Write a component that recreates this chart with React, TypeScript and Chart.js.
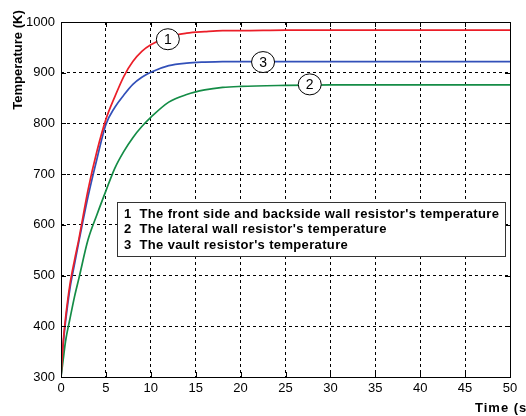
import React, { useEffect, useRef } from "react";
import { Chart, registerables } from "chart.js";

Chart.register(...registerables);

// Time (s)
const TIME = [0, 0.25, 0.5, 1, 1.5, 2, 3, 4, 5, 6, 7, 8, 9, 10, 12, 14, 16, 18, 20, 25, 30, 35, 40, 45, 50];
// 1: front side and backside wall resistor (K)
const FRONT_BACK = [300, 370, 415, 483, 530, 573, 668, 745, 808, 853, 893, 922, 942, 955, 971, 978, 981, 983, 983, 984, 984, 984, 984, 984, 984];
// 2: lateral wall resistor (K)
const LATERAL = [300, 335, 370, 415, 458, 495, 570, 620, 667, 712, 745, 772, 794, 812, 842, 857, 866, 871, 873, 875, 876, 876, 876, 876, 876];
// 3: vault resistor (K)
const VAULT = [300, 365, 408, 475, 522, 568, 655, 730, 798, 832, 856, 877, 891, 901, 914, 919, 921, 922, 922, 922, 922, 922, 922, 922, 922];

const X_TICKS_STEP = 5;
const Y_TICKS_STEP = 100;

const LEGEND_LINES = [
  "1  The front side and backside wall resistor's temperature",
  "2  The lateral wall resistor's temperature",
  "3  The vault resistor's temperature",
];

const MARK_LABELS = ["1", "3", "2"];
const MARK_T = [11.9, 22.5, 27.7];
const MARK_TEMP = [966, 921, 877];

const X_TITLE = "Time (s)";
const Y_TITLE = "Temperature (K)";

const FONT = "'Liberation Sans', Arial, Helvetica, sans-serif";

const overlay = {
  id: "overlay",
  afterDatasetsDraw(chart: any) {
    const ctx = chart.ctx as any;
    const { left, right, top, bottom } = chart.chartArea;
    const xs = chart.scales.x;
    const ys = chart.scales.y;
    ctx.save();
    // inside ticks
    ctx.strokeStyle = "#000";
    ctx.lineWidth = 1;
    ctx.setLineDash([]);
    ctx.beginPath();
    for (let v = 0; v <= 50; v += X_TICKS_STEP) {
      const px = Math.round(xs.getPixelForValue(v)) + 0.5;
      ctx.moveTo(px, bottom);
      ctx.lineTo(px, bottom - 5);
      ctx.moveTo(px, top);
      ctx.lineTo(px, top + 5);
    }
    for (let v = 300; v <= 1000; v += Y_TICKS_STEP) {
      const py = Math.round(ys.getPixelForValue(v)) + 0.5;
      ctx.moveTo(left, py);
      ctx.lineTo(left + 5, py);
      ctx.moveTo(right, py);
      ctx.lineTo(right - 5, py);
    }
    ctx.stroke();
    // box
    ctx.strokeRect(Math.round(left) + 0.5, Math.round(top) + 0.5, Math.round(right - left), Math.round(bottom - top));

    // curve marks
    for (let i = 0; i < MARK_LABELS.length; i++) {
      const cx = xs.getPixelForValue(MARK_T[i]);
      const cy = ys.getPixelForValue(MARK_TEMP[i]);
      ctx.beginPath();
      ctx.ellipse(cx, cy, 11.5, 10.5, 0, 0, Math.PI * 2);
      ctx.fillStyle = "#fff";
      ctx.fill();
      ctx.strokeStyle = "#000";
      ctx.lineWidth = 1;
      ctx.stroke();
      ctx.fillStyle = "#000";
      ctx.font = `14px ${FONT}`;
      ctx.textAlign = "center";
      ctx.textBaseline = "middle";
      ctx.fillText(MARK_LABELS[i], cx, cy + 1);
    }

    // legend box
    const bx = 117, by = 202, bw = 388, bh = 54;
    ctx.fillStyle = "#fff";
    ctx.fillRect(bx, by, bw, bh);
    ctx.strokeStyle = "#333";
    ctx.lineWidth = 1;
    ctx.strokeRect(bx + 0.5, by + 0.5, bw, bh);
    ctx.fillStyle = "#000";
    ctx.font = `bold 13px ${FONT}`;
    ctx.letterSpacing = "0.35px";
    ctx.textAlign = "left";
    ctx.textBaseline = "middle";
    LEGEND_LINES.forEach((s, i) => {
      ctx.fillText(s, 124, 214 + i * 15.5);
    });

    // axis titles
    ctx.font = `bold 13px ${FONT}`;
    ctx.letterSpacing = "0px";
    ctx.textAlign = "center";
    ctx.textBaseline = "middle";
    ctx.save();
    ctx.translate(18, 60);
    ctx.rotate(-Math.PI / 2);
    ctx.fillText(Y_TITLE, 0, 0);
    ctx.restore();
    ctx.letterSpacing = "1px";
    ctx.textAlign = "left";
    ctx.fillText(X_TITLE, 475, 408);
    ctx.restore();
  },
};

export default function App() {
  const ref = useRef<HTMLCanvasElement | null>(null);
  useEffect(() => {
    if (!ref.current) return;
    const mk = (vals: number[]) => TIME.map((t, i) => ({ x: t, y: vals[i] }));
    const common = { pointRadius: 0, borderWidth: 1.7, cubicInterpolationMode: "monotone" as const, fill: false };
    const chart = new Chart(ref.current, {
      type: "line",
      data: {
        datasets: [
          { ...common, label: "1", data: mk(FRONT_BACK), borderColor: "rgb(235,30,40)" },
          { ...common, label: "2", data: mk(LATERAL), borderColor: "rgb(20,140,70)" },
          { ...common, label: "3", data: mk(VAULT), borderColor: "rgb(50,80,185)" },
        ],
      },
      options: {
        responsive: false,
        animation: false,
        layout: { padding: { top: 22, right: 16, left: 0, bottom: 0 } },
        plugins: { legend: { display: false }, tooltip: { enabled: false } },
        scales: {
          x: {
            type: "linear",
            min: 0,
            max: 50,
            ticks: { stepSize: X_TICKS_STEP, color: "#000", font: { family: FONT, size: 13 }, padding: 4, maxRotation: 0, callback: (v: any) => String(v) },
            grid: { color: "#000", lineWidth: 1, drawTicks: false },
            border: { display: false, dash: [3, 3] },
            afterFit(s: any) { s.height = 39; },
          },
          y: {
            type: "linear",
            min: 300,
            max: 1000,
            ticks: { stepSize: Y_TICKS_STEP, color: "#000", font: { family: FONT, size: 13 }, padding: 6, callback: (v: any) => String(v) },
            grid: { color: "#000", lineWidth: 1, drawTicks: false },
            border: { display: false, dash: [3, 3] },
            afterFit(s: any) { s.width = 61; },
          },
        },
      },
      plugins: [overlay],
    });
    return () => chart.destroy();
  }, []);
  return (
    <div style={{ position: "fixed", left: 0, top: 0, width: 526, height: 416, background: "#fff" }}>
      <canvas ref={ref} width={526} height={416} style={{ display: "block" }} />
    </div>
  );
}
